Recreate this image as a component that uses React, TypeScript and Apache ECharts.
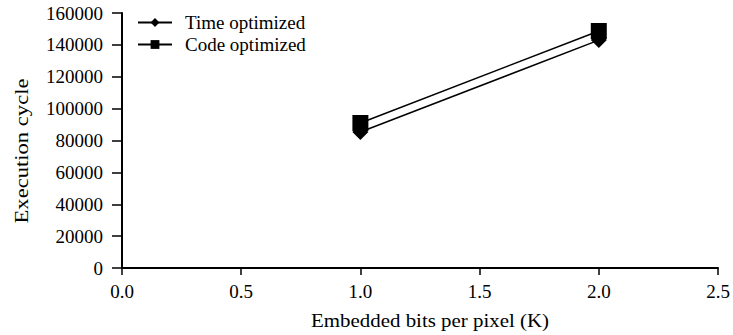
import React, { useEffect, useRef } from "react";
import * as echarts from "echarts";

const xValues = [1.0, 2.0];
const timeOptimized = [85300, 143000];
const codeOptimized = [91000, 148700];
const seriesNames = ["Time optimized", "Code optimized"];
const xTitle = "Embedded bits per pixel (K)";
const yTitle = "Execution cycle";

const FONT = "Liberation Serif, Times New Roman, serif";

export default function App() {
  const ref = useRef<HTMLDivElement>(null);
  useEffect(() => {
    if (!ref.current) return;
    const chart = echarts.init(ref.current, null, { renderer: "svg" });
    const axisLine = { show: true, lineStyle: { color: "#000", width: 2 } };
    chart.setOption({
      animation: false,
      backgroundColor: "#fff",
      grid: { left: 122, right: 15, top: 13, bottom: 67 },
      legend: {
        left: 132,
        top: 8,
        orient: "vertical",
        itemWidth: 34,
        itemHeight: 11,
        itemGap: 3,
        data: seriesNames,
        textStyle: { fontFamily: FONT, fontSize: 19, color: "#000", padding: [0, 0, 0, 8] },
      },
      xAxis: {
        type: "value",
        min: 0,
        max: 2.5,
        interval: 0.5,
        axisLine,
        axisTick: { show: true, length: 7, lineStyle: { color: "#000", width: 1.5 } },
        splitLine: { show: false },
        axisLabel: {
          fontFamily: FONT,
          fontSize: 19,
          color: "#000",
          margin: 14,
          formatter: (v: number) => v.toFixed(1),
        },
      },
      yAxis: {
        type: "value",
        min: 0,
        max: 160000,
        interval: 20000,
        axisLine,
        axisTick: { show: true, length: 10, lineStyle: { color: "#000", width: 1.5 } },
        splitLine: { show: false },
        axisLabel: {
          fontFamily: FONT,
          fontSize: 19,
          color: "#000",
          margin: 19,
          formatter: (v: number) => String(v),
        },
      },
      graphic: [
        {
          type: "text",
          x: 430,
          y: 320,
          scaleX: 1.1,
          style: {
            text: xTitle,
            fontFamily: FONT,
            fontSize: 19,
            fill: "#000",
            align: "center",
            verticalAlign: "middle",
          },
        },
        {
          type: "text",
          x: 22,
          y: 151,
          rotation: Math.PI / 2,
          scaleX: 1.19,
          style: {
            text: yTitle,
            fontFamily: FONT,
            fontSize: 19,
            fill: "#000",
            align: "center",
            verticalAlign: "middle",
          },
        },
      ],
      series: [
        {
          name: seriesNames[0],
          type: "line",
          data: xValues.map((x, i) => [x, timeOptimized[i]]),
          symbol: "diamond",
          symbolSize: 16,
          itemStyle: { color: "#000" },
          lineStyle: { color: "#000", width: 1.5 },
        },
        {
          name: seriesNames[1],
          type: "line",
          data: xValues.map((x, i) => [x, codeOptimized[i]]),
          symbol: "rect",
          symbolSize: 16,
          itemStyle: { color: "#000" },
          lineStyle: { color: "#000", width: 1.5 },
        },
      ],
    });
    return () => chart.dispose();
  }, []);
  return <div ref={ref} style={{ width: 733, height: 335, position: "absolute", left: 0, top: 0 }} />;
}
